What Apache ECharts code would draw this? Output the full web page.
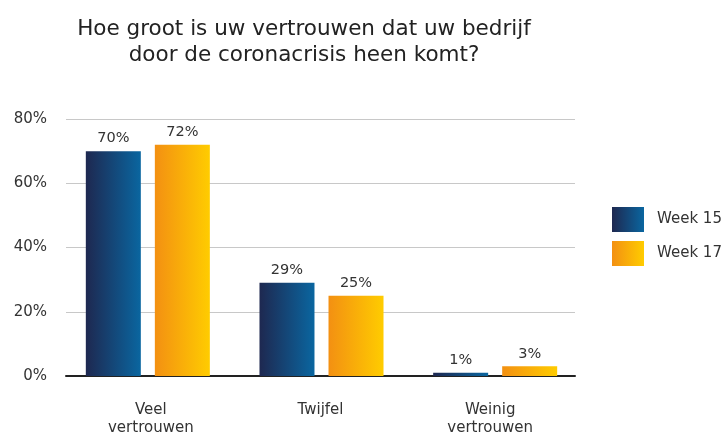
<!DOCTYPE html>
<html>
<head>
<meta charset="utf-8">
<script src="https://cdn.jsdelivr.net/npm/echarts@6/dist/echarts.min.js"></script>
<style>
  html, body { margin: 0; padding: 0; background: #fff; }
  #chart { width: 725px; height: 434px; }
</style>
</head>
<body>
<div id="chart"></div>
<script>
var categories = ['Veel\nvertrouwen', 'Twijfel', 'Weinig\nvertrouwen'];
var week15 = [70, 29, 1];
var week17 = [72, 25, 3];
var yTicks = [0, 20, 40, 60, 80];

function grad(c1, c2) {
    return new echarts.graphic.LinearGradient(0, 0, 1, 0, [
        { offset: 0, color: c1 },
        { offset: 1, color: c2 }
    ]);
}

var chart = echarts.init(document.getElementById('chart'));
var font = 'Verdana, "DejaVu Sans", sans-serif';
var yMin = yTicks[0], yMax = yTicks[yTicks.length - 1];

var option = {
    animation: false,
    textStyle: { fontFamily: font },
    title: {
        text: 'Hoe groot is uw vertrouwen dat uw bedrijf\ndoor de coronacrisis heen komt?',
        left: 299,
        textAlign: 'center',
        top: 11,
        textStyle: { fontFamily: font, fontSize: 21.5, fontWeight: 'normal', color: '#222', lineHeight: 26 }
    },
    legend: {
        orient: 'vertical',
        left: 607,
        top: 202,
        itemWidth: 32,
        itemHeight: 25,
        itemGap: 9,
        icon: 'rect',
        textStyle: { fontFamily: font, fontSize: 15, color: '#333', padding: [0, 0, 0, 8] },
        data: ['Week 15', 'Week 17']
    },
    // grid 0: axes and gridlines, grid 1: bars (slightly wider spacing as in the picture)
    grid: [
        { left: 66, right: 150, top: 119, bottom: 58, outerBoundsMode: 'none' },
        { left: 61, right: 143, top: 119, bottom: 58, outerBoundsMode: 'none' }
    ],
    xAxis: [{
        type: 'category',
        gridIndex: 0,
        data: categories,
        axisTick: { show: false },
        axisLine: { lineStyle: { color: '#222', width: 2 } },
        axisLabel: { fontFamily: font, fontSize: 15, color: '#333', margin: 25, lineHeight: 18 }
    }, {
        type: 'category',
        gridIndex: 1,
        data: categories,
        show: false
    }],
    yAxis: [{
        type: 'value',
        gridIndex: 0,
        min: yMin,
        max: yMax,
        interval: 20,
        axisLabel: { fontFamily: font, fontSize: 15, color: '#333', margin: 19, formatter: '{value}%' },
        splitLine: { lineStyle: { color: '#c8c8c8', width: 1 } },
        axisLine: { show: false },
        axisTick: { show: false }
    }, {
        type: 'value',
        gridIndex: 1,
        min: yMin,
        max: yMax,
        show: false,
        splitLine: { show: false }
    }],
    series: [{
        name: 'Week 15',
        type: 'bar',
        xAxisIndex: 1,
        yAxisIndex: 1,
        data: week15,
        barWidth: 55,
        barGap: '25.5%',
        z: 1,
        itemStyle: { color: grad('#1e2850', '#0a66a0') },
        label: { show: true, position: 'top', formatter: '{c}%', fontFamily: font, fontSize: 14.5, color: '#333' }
    }, {
        name: 'Week 17',
        type: 'bar',
        xAxisIndex: 1,
        yAxisIndex: 1,
        data: week17,
        barWidth: 55,
        z: 1,
        itemStyle: { color: grad('#f39012', '#ffcc00') },
        label: { show: true, position: 'top', formatter: '{c}%', fontFamily: font, fontSize: 14.5, color: '#333' }
    }]
};

chart.setOption(option);
</script>
</body>
</html>
